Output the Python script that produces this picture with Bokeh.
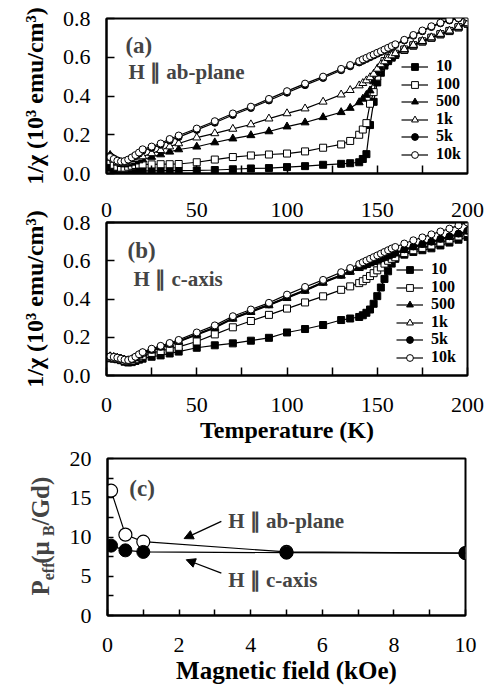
import math
from bokeh.plotting import figure
from bokeh.layouts import column, row
from bokeh.models import (Range1d, FixedTicker, LinearAxis, Legend, LegendItem, Label,
                          Arrow, NormalHead, PrintfTickFormatter, ColumnDataSource)
from bokeh.embed import file_html
from bokeh.resources import INLINE

# ---------------- data ----------------
T = [2, 4, 6, 8, 10, 12, 14, 16, 18,
     20, 25, 30, 35, 40, 50, 60, 70, 80, 90, 100, 110, 120, 130,
     135, 140, 142, 144, 146, 148, 150, 152, 154, 156, 158, 160,
     165, 170, 175, 180, 185, 190, 195, 200]

series_labels = ["10", "100", "500", "1k", "5k", "10k"]

# panel (a): H || ab-plane
a_10 = [0.030, 0.012, 0.006, 0.005, 0.005, 0.007, 0.009, 0.011, 0.013,
        0.014, 0.014, 0.015, 0.015, 0.015, 0.016, 0.018, 0.022, 0.026, 0.028, 0.033, 0.038, 0.045, 0.050,
        0.053, 0.058, 0.075, 0.100, 0.250, 0.370, 0.470, 0.520, 0.557, 0.580, 0.598, 0.612,
        0.638, 0.660, 0.681, 0.700, 0.718, 0.735, 0.754, 0.773]
a_100 = [0.065, 0.045, 0.035, 0.030, 0.030, 0.035, 0.040, 0.044, 0.046,
         0.047, 0.047, 0.048, 0.048, 0.049, 0.058, 0.072, 0.085, 0.093, 0.098, 0.103, 0.114, 0.133, 0.150,
         0.168, 0.200, 0.227, 0.260, 0.360, 0.420, 0.500, 0.547, 0.580, 0.595, 0.607, 0.618,
         0.640, 0.662, 0.682, 0.701, 0.719, 0.736, 0.755, 0.775]
a_500 = [0.095, 0.075, 0.055, 0.048, 0.046, 0.050, 0.055, 0.061, 0.067,
         0.072, 0.085, 0.098, 0.112, 0.124, 0.138, 0.160, 0.180, 0.197, 0.217, 0.242, 0.263, 0.290, 0.316,
         0.338, 0.367, 0.385, 0.405, 0.428, 0.475, 0.515, 0.545, 0.568, 0.585, 0.600, 0.615,
         0.640, 0.662, 0.682, 0.701, 0.719, 0.736, 0.755, 0.775]
a_1k = [0.080, 0.070, 0.060, 0.055, 0.055, 0.060, 0.066, 0.074, 0.082,
        0.088, 0.104, 0.120, 0.139, 0.155, 0.185, 0.207, 0.230, 0.253, 0.283, 0.310, 0.335, 0.370, 0.407,
        0.430, 0.454, 0.466, 0.480, 0.496, 0.514, 0.540, 0.563, 0.578, 0.595, 0.609, 0.620,
        0.641, 0.663, 0.683, 0.702, 0.720, 0.737, 0.756, 0.775]
a_5k = [0.090, 0.078, 0.068, 0.062, 0.063, 0.070, 0.080, 0.090, 0.102,
        0.118, 0.132, 0.148, 0.170, 0.188, 0.225, 0.262, 0.302, 0.338, 0.377, 0.417, 0.456, 0.493, 0.533,
        0.553, 0.573, 0.582, 0.591, 0.600, 0.609, 0.618, 0.627, 0.636, 0.645, 0.654, 0.663,
        0.687, 0.711, 0.734, 0.756, 0.775, 0.790, 0.800, 0.805]
a_10k = [0.085, 0.075, 0.066, 0.062, 0.064, 0.072, 0.083, 0.095, 0.108,
         0.125, 0.139, 0.155, 0.178, 0.196, 0.232, 0.270, 0.310, 0.345, 0.385, 0.425, 0.464, 0.500, 0.540,
         0.560, 0.580, 0.589, 0.597, 0.606, 0.614, 0.623, 0.631, 0.640, 0.649, 0.658, 0.667,
         0.690, 0.715, 0.738, 0.760, 0.778, 0.793, 0.802, 0.806]

# panel (b): H || c-axis
b_10 = [0.090, 0.088, 0.085, 0.080, 0.072, 0.068, 0.070, 0.076, 0.083,
        0.088, 0.098, 0.105, 0.115, 0.125, 0.145, 0.158, 0.168, 0.182, 0.197, 0.225, 0.243, 0.264, 0.290,
        0.298, 0.306, 0.315, 0.328, 0.345, 0.375, 0.415, 0.460, 0.505, 0.545, 0.585, 0.610,
        0.632, 0.646, 0.655, 0.665, 0.680, 0.695, 0.710, 0.725]
b_100 = [0.095, 0.093, 0.090, 0.085, 0.078, 0.075, 0.078, 0.085, 0.095,
         0.103, 0.118, 0.128, 0.140, 0.150, 0.178, 0.215, 0.252, 0.285, 0.317, 0.350, 0.382, 0.414, 0.448,
         0.466, 0.483, 0.493, 0.505, 0.520, 0.535, 0.550, 0.565, 0.585, 0.600, 0.610, 0.618,
         0.640, 0.655, 0.667, 0.680, 0.695, 0.710, 0.727, 0.745]
b_500 = [0.098, 0.095, 0.091, 0.086, 0.080, 0.078, 0.083, 0.092, 0.104,
         0.114, 0.130, 0.146, 0.161, 0.176, 0.212, 0.248, 0.296, 0.331, 0.366, 0.404, 0.442, 0.484, 0.521,
         0.541, 0.561, 0.569, 0.577, 0.585, 0.593, 0.600, 0.607, 0.615, 0.622, 0.630, 0.637,
         0.655, 0.670, 0.683, 0.696, 0.710, 0.724, 0.738, 0.752]
b_1k = [0.100, 0.096, 0.092, 0.087, 0.081, 0.079, 0.084, 0.094, 0.106,
        0.116, 0.132, 0.148, 0.163, 0.178, 0.215, 0.251, 0.299, 0.334, 0.369, 0.407, 0.445, 0.487, 0.524,
        0.544, 0.564, 0.572, 0.580, 0.588, 0.595, 0.603, 0.610, 0.617, 0.625, 0.632, 0.640,
        0.658, 0.672, 0.686, 0.698, 0.712, 0.726, 0.740, 0.755]
b_5k = [0.100, 0.097, 0.093, 0.088, 0.082, 0.080, 0.085, 0.095, 0.108,
        0.118, 0.134, 0.150, 0.165, 0.180, 0.217, 0.253, 0.302, 0.337, 0.372, 0.410, 0.448, 0.490, 0.527,
        0.547, 0.567, 0.575, 0.583, 0.590, 0.598, 0.605, 0.612, 0.620, 0.627, 0.635, 0.642,
        0.660, 0.675, 0.688, 0.700, 0.715, 0.728, 0.742, 0.757]
b_10k = [0.100, 0.097, 0.093, 0.088, 0.083, 0.081, 0.087, 0.098, 0.111,
         0.122, 0.140, 0.155, 0.170, 0.186, 0.225, 0.262, 0.310, 0.345, 0.380, 0.423, 0.463, 0.500, 0.540,
         0.562, 0.583, 0.592, 0.601, 0.610, 0.619, 0.628, 0.637, 0.646, 0.655, 0.664, 0.672,
         0.690, 0.707, 0.722, 0.738, 0.753, 0.768, 0.785, 0.800]

# panel (c)
field = [0.1, 0.5, 1, 5, 10]
peff_ab = [15.9, 10.3, 9.4, 8.1, 7.95]
peff_c = [8.9, 8.3, 8.1, 8.0, 7.95]

temp_ticks = [0, 50, 100, 150, 200]
temp_minor = [25, 75, 125, 175]
temp_all_inner = [25, 50, 75, 100, 125, 150, 175]
chi_ticks = [0.0, 0.2, 0.4, 0.6, 0.8]
field_ticks = [0, 2, 4, 6, 8, 10]
field_minor = [1, 3, 5, 7, 9]
peff_ticks = [0, 5, 10, 15, 20]
peff_minor = [2.5, 7.5, 12.5, 17.5]

# ---------------- styling ----------------
SERIF = "Liberation Serif"
TICK_FS = "22px"
TITLE_FS = "24px"
CHI_LABEL = "1/χ (10³ emu/cm³)"

styles = [("square", True, 7), ("square", False, 7), ("triangle", True, 8),
          ("triangle", False, 8), ("circle", True, 7), ("circle", False, 7)]

# legend row placement (pixels above the frame bottom for each one-row legend)
legend_rows_a = (295, [96, 78, 61, 43, 26, 8])
legend_rows_b = (290, [95, 77, 60, 42, 25, 7])


def make_fig(width, height, top, bottom, left, right, xr, yr):
    p = figure(width=width, height=height, x_range=xr, y_range=yr,
               output_backend="svg", toolbar_location=None,
               min_border_left=left, min_border_right=right,
               min_border_top=top, min_border_bottom=bottom)
    p.xgrid.visible = False
    p.ygrid.visible = False
    p.outline_line_color = "black"
    p.outline_line_width = 2
    p.outline_line_alpha = 1
    p.background_fill_color = "white"
    p.border_fill_color = "white"
    return p


def style_axis(ax, tick_len=8):
    ax.axis_line_color = "black"
    ax.axis_line_width = 2
    ax.major_tick_in = tick_len
    ax.major_tick_out = 0
    ax.minor_tick_in = tick_len
    ax.minor_tick_out = 0
    ax.major_tick_line_width = 1.5
    ax.minor_tick_line_width = 1.5
    ax.major_tick_line_color = "black"
    ax.minor_tick_line_color = "black"
    ax.major_label_text_font = SERIF
    ax.major_label_text_font_size = TICK_FS
    ax.major_label_text_color = "black"
    ax.axis_label_text_font = SERIF
    ax.axis_label_text_font_style = "bold"
    ax.axis_label_text_font_size = TITLE_FS
    ax.axis_label_text_color = "black"


def draw_series(p, xs, ys_list):
    items = []
    for lab, ys, (mk, filled, size) in zip(series_labels, ys_list, styles):
        src = ColumnDataSource(dict(x=xs, y=ys))
        lr = p.line("x", "y", source=src, line_color="black", line_width=1.2)
        sr = p.scatter("x", "y", source=src, marker=mk, size=size, line_color="black",
                       line_width=1, fill_color="black" if filled else "white")
        items.append(LegendItem(label=lab, renderers=[lr, sr]))
    return items


def add_legends(p, items, rows):
    x0, ys = rows
    for item, y0 in zip(items, ys):
        leg = Legend(items=[item], location=(x0, y0), orientation="vertical",
                     glyph_width=27, glyph_height=17, label_height=22, spacing=0,
                     padding=0, margin=0, label_standoff=8,
                     background_fill_color=None, border_line_color=None,
                     label_text_font=SERIF, label_text_font_style="bold",
                     label_text_font_size="16px", label_text_color="black")
        p.add_layout(leg)


def chi_yaxis(p):
    ax = p.yaxis[0]
    style_axis(ax)
    ax.ticker = FixedTicker(ticks=chi_ticks, minor_ticks=[])
    ax.formatter = PrintfTickFormatter(format="%.1f")
    ax.major_label_standoff = 16
    ax.axis_label = CHI_LABEL
    ax.axis_label_standoff = 12


# ---------------- panel (a) ----------------
pA = make_fig(488, 190, 18, 17, 106, 21, Range1d(0, 200), Range1d(0, 0.8))
chi_yaxis(pA)
axA = pA.xaxis[0]
style_axis(axA)
axA.ticker = FixedTicker(ticks=[], minor_ticks=temp_all_inner)
itemsA = draw_series(pA, T, [a_10, a_100, a_500, a_1k, a_5k, a_10k])
add_legends(pA, itemsA, legend_rows_a)
pA.add_layout(Label(x=10.5, y=0.663, text="(a)", text_font=SERIF, text_font_style="bold",
                    text_font_size="23px", text_baseline="middle", text_align="left"))
pA.add_layout(Label(x=12.2, y=0.526, text="H ∥ ab-plane", text_font=SERIF,
                    text_font_style="bold", text_font_size="21px",
                    text_baseline="middle", text_align="left"))

# ---------------- panel (b) ----------------
pB = make_fig(488, 255, 32, 68, 106, 21, Range1d(0, 200), Range1d(0, 0.8))
chi_yaxis(pB)
axB = pB.xaxis[0]
style_axis(axB)
axB.ticker = FixedTicker(ticks=temp_ticks, minor_ticks=temp_minor)
axB.major_label_standoff = 22
axB.axis_label = "Temperature (K)"
axB.axis_label_standoff = 2
topB = LinearAxis(ticker=FixedTicker(ticks=temp_ticks, minor_ticks=[]))
style_axis(topB, tick_len=0)
topB.major_label_standoff = 6
pB.add_layout(topB, "above")
itemsB = draw_series(pB, T, [b_10, b_100, b_500, b_1k, b_5k, b_10k])
add_legends(pB, itemsB, legend_rows_b)
pB.add_layout(Label(x=11.7, y=0.655, text="(b)", text_font=SERIF, text_font_style="bold",
                    text_font_size="23px", text_baseline="middle", text_align="left"))
pB.add_layout(Label(x=15, y=0.506, text="H ∥ c-axis", text_font=SERIF,
                    text_font_style="bold", text_font_size="21px",
                    text_baseline="middle", text_align="left"))

# ---------------- panel (c) ----------------
LW = 66  # width of the narrow strip that carries panel (c)'s y-axis title
pC = make_fig(488 - LW, 246, 13, 76, 106 - LW, 23, Range1d(0, 10), Range1d(0, 20))
axCx = pC.xaxis[0]
style_axis(axCx, tick_len=6)
axCx.ticker = FixedTicker(ticks=field_ticks, minor_ticks=field_minor)
axCx.major_label_standoff = 22
axCx.axis_label = "Magnetic field (kOe)"
axCx.axis_label_standoff = 2
axCx.axis_label_text_font_size = "25px"
axCy = pC.yaxis[0]
style_axis(axCy, tick_len=6)
axCy.ticker = FixedTicker(ticks=peff_ticks, minor_ticks=peff_minor)
axCy.major_label_standoff = 16

pC.line(field, peff_ab, line_color="black", line_width=1.2)
pC.scatter(field, peff_ab, marker="circle", size=13, line_color="black", line_width=1.2,
           fill_color="white")
pC.line(field, peff_c, line_color="black", line_width=1.2)
pC.scatter(field, peff_c, marker="circle", size=13, line_color="black", line_width=1,
           fill_color="black")

pC.add_layout(Label(x=0.61, y=16.2, text="(c)", text_font=SERIF, text_font_style="bold",
                    text_font_size="23px", text_baseline="middle", text_align="left"))
pC.add_layout(Label(x=3.37, y=12.1, text="H ∥ ab-plane", text_font=SERIF,
                    text_font_style="bold", text_font_size="21px",
                    text_baseline="middle", text_align="left"))
pC.add_layout(Label(x=3.37, y=4.5, text="H ∥ c-axis", text_font=SERIF,
                    text_font_style="bold", text_font_size="21px",
                    text_baseline="middle", text_align="left"))
pC.add_layout(Arrow(end=NormalHead(size=9, fill_color="black", line_color="black"),
                    x_start=3.18, y_start=12.0, x_end=2.14, y_end=9.8,
                    line_color="black", line_width=1.3))
pC.add_layout(Arrow(end=NormalHead(size=9, fill_color="black", line_color="black"),
                    x_start=3.18, y_start=5.4, x_end=2.2, y_end=7.1,
                    line_color="black", line_width=1.3))

# strip with the y-axis title of panel (c) (with subscripts); its frame is aligned with
# panel (c)'s frame, so it shares panel (c)'s y range (7.85 px per unit).
pL = figure(width=LW, height=246, x_range=Range1d(0, LW), y_range=pC.y_range,
            x_axis_type=None, y_axis_type=None, output_backend="svg",
            toolbar_location=None, min_border=0)
pL.outline_line_color = None
pL.background_fill_color = "white"
pL.border_fill_color = "white"
pieces = [("P", "25px", 15.3, 39.6), ("eff", "16px", 17.6, 47.6), (" (μ", "25px", 26.5, 39.6),
          ("B", "16px", 10.7, 47.6), ("/Gd)", "25px", 48.8, 39.6)]
run = 20.0  # px from frame bottom where the title starts
for txt, fs, w, xc in pieces:
    pL.add_layout(Label(x=xc, y=(run + w / 2) / 7.85, text=txt, angle=math.pi / 2,
                        text_font=SERIF, text_font_style="bold", text_font_size=fs,
                        text_baseline="middle", text_align="center"))
    run += w

layout = column(pA, pB, row(pL, pC))
open("out.html", "w").write(file_html(layout, INLINE))
